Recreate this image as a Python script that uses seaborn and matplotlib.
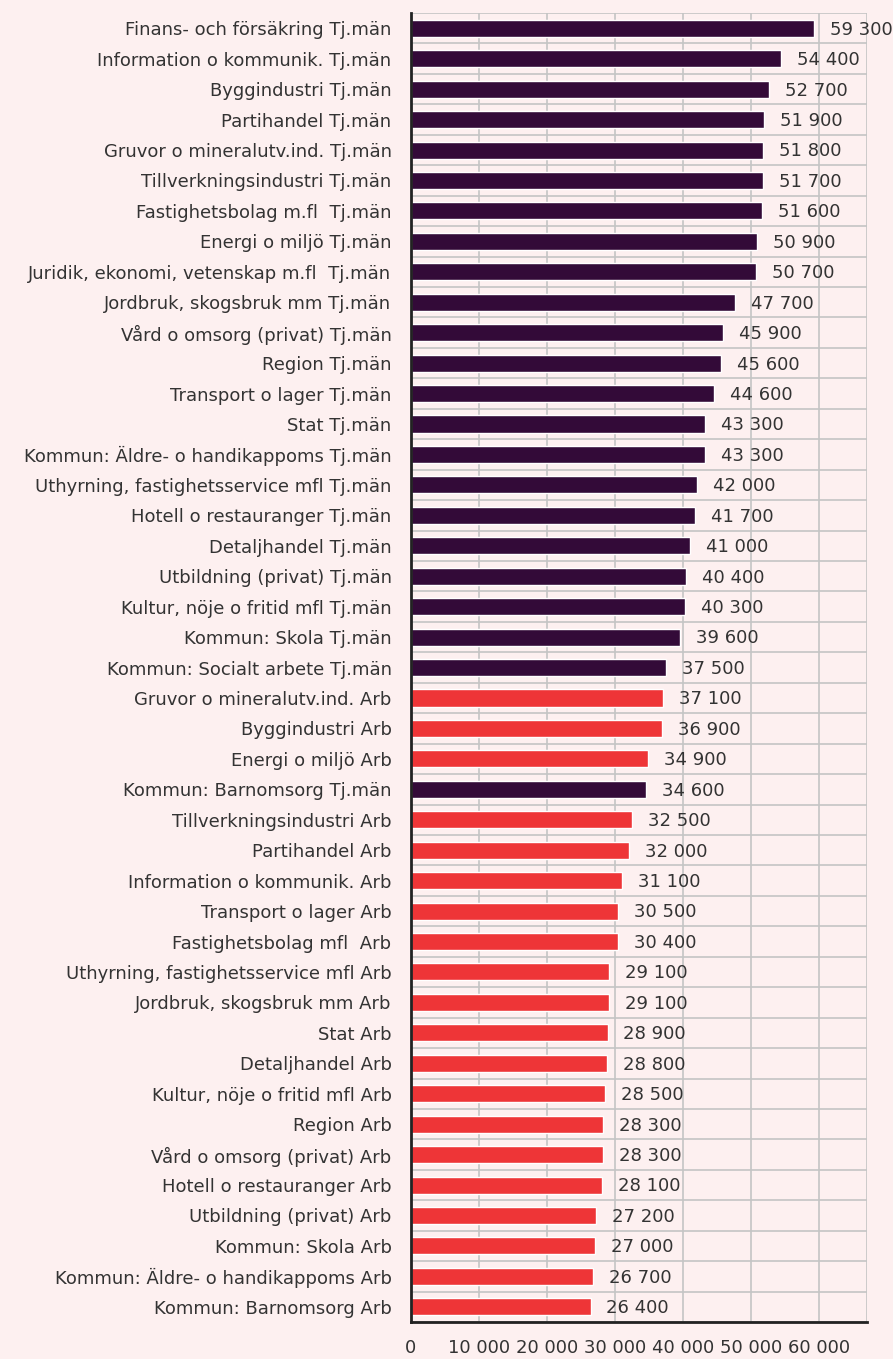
import pandas as pd
import numpy as np
import matplotlib.pyplot as plt
import seaborn as sns

# Categories, top to bottom
labels = [
    "Finans- och försäkring Tj.män",
    "Information o kommunik. Tj.män",
    "Byggindustri Tj.män",
    "Partihandel Tj.män",
    "Gruvor o mineralutv.ind. Tj.män",
    "Tillverkningsindustri Tj.män",
    "Fastighetsbolag m.fl  Tj.män",
    "Energi o miljö Tj.män",
    "Juridik, ekonomi, vetenskap m.fl  Tj.män",
    "Jordbruk, skogsbruk mm Tj.män",
    "Vård o omsorg (privat) Tj.män",
    "Region Tj.män",
    "Transport o lager Tj.män",
    "Stat Tj.män",
    "Kommun: Äldre- o handikappoms Tj.män",
    "Uthyrning, fastighetsservice mfl Tj.män",
    "Hotell o restauranger Tj.män",
    "Detaljhandel Tj.män",
    "Utbildning (privat) Tj.män",
    "Kultur, nöje o fritid mfl Tj.män",
    "Kommun: Skola Tj.män",
    "Kommun: Socialt arbete Tj.män",
    "Gruvor o mineralutv.ind. Arb",
    "Byggindustri Arb",
    "Energi o miljö Arb",
    "Kommun: Barnomsorg Tj.män",
    "Tillverkningsindustri Arb",
    "Partihandel Arb",
    "Information o kommunik. Arb",
    "Transport o lager Arb",
    "Fastighetsbolag mfl  Arb",
    "Uthyrning, fastighetsservice mfl Arb",
    "Jordbruk, skogsbruk mm Arb",
    "Stat Arb",
    "Detaljhandel Arb",
    "Kultur, nöje o fritid mfl Arb",
    "Region Arb",
    "Vård o omsorg (privat) Arb",
    "Hotell o restauranger Arb",
    "Utbildning (privat) Arb",
    "Kommun: Skola Arb",
    "Kommun: Äldre- o handikappoms Arb",
    "Kommun: Barnomsorg Arb",
]

salaries = [
    59300, 54400, 52700, 51900, 51800, 51700, 51600, 50900, 50700, 47700,
    45900, 45600, 44600, 43300, 43300, 42000, 41700, 41000, 40400, 40300,
    39600, 37500, 37100, 36900, 34900, 34600, 32500, 32000, 31100, 30500,
    30400, 29100, 29100, 28900, 28800, 28500, 28300, 28300, 28100, 27200,
    27000, 26700, 26400,
]

x_ticks = [0, 10000, 20000, 30000, 40000, 50000, 60000]

BG = "#fdf0f0"
PURPLE = "#330a38"
RED = "#ee3537"
TEXT = "#333333"

df = pd.DataFrame({"label": labels, "salary": salaries})
df["group"] = np.where(df["label"].str.endswith("Tj.män"), "Tj.män", "Arb")


def fmt(v):
    return f"{v:,.0f}".replace(",", " ")


sns.set_theme(style="white")
plt.rcParams["font.family"] = ["DejaVu Sans"]

fig, ax = plt.subplots(figsize=(8.93, 13.59), dpi=100)
fig.patch.set_facecolor(BG)
ax.set_facecolor(BG)
fig.subplots_adjust(left=0.4602, right=0.9705, top=0.9904, bottom=0.0272)

sns.barplot(data=df, y="label", x="salary", hue="group",
            palette={"Tj.män": PURPLE, "Arb": RED}, dodge=False,
            legend=False, width=0.56, saturation=1, ax=ax)

ax.set_xlim(0, 67000)
ax.set_ylim(len(labels) - 0.5, -0.5)
ax.set_xticks(x_ticks)
ax.set_xticklabels([fmt(t) for t in x_ticks])
ax.set_xlabel("")
ax.set_ylabel("")

# grid: verticals at 10 000 steps, horizontals between categories
for xv in x_ticks[1:] + [67000]:
    ax.axvline(xv, color="#c4c4c4", lw=1.2, zorder=0)
for yb in np.arange(-0.5, len(labels), 1.0):
    ax.axhline(yb, color="#c4c4c4", lw=1.2, zorder=0)

for i, v in enumerate(salaries):
    ax.annotate(fmt(v), (v, i), xytext=(11.5, -1), textcoords="offset points",
                va="center", ha="left", fontsize=13, color=TEXT)

for s in ["top", "right"]:
    ax.spines[s].set_visible(False)
for s in ["left", "bottom"]:
    ax.spines[s].set_color("#222222")
    ax.spines[s].set_linewidth(2)

ax.tick_params(axis="y", length=0, pad=14, labelsize=13, labelcolor=TEXT)
ax.tick_params(axis="x", length=0, pad=12, labelsize=13, labelcolor=TEXT)

fig.savefig("out.png", dpi=100, facecolor=BG)
